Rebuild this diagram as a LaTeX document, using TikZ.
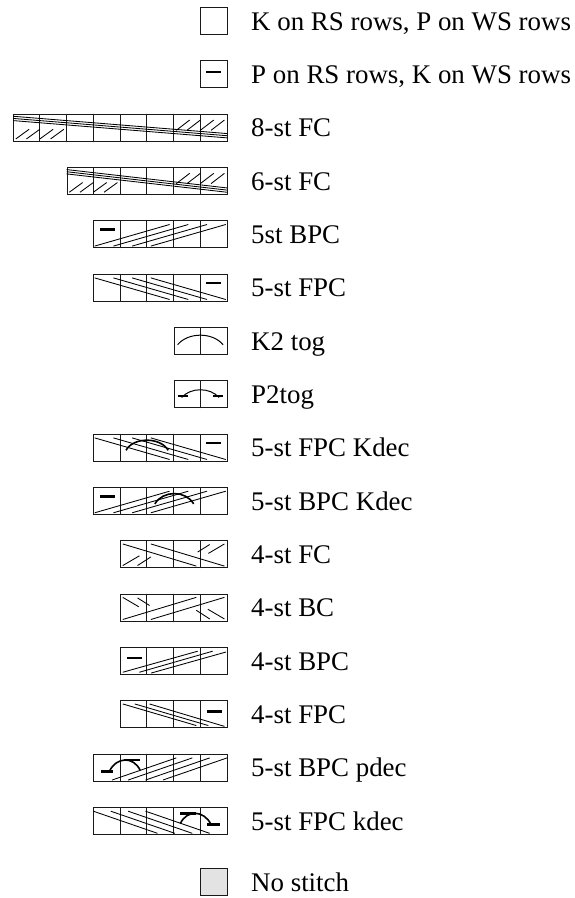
\documentclass[tikz,border=0pt]{standalone}
\usepackage{fontspec}
\setmainfont{Liberation Serif}
\usetikzlibrary{positioning}
\tikzstyle{chart} = [rectangle, draw=black!90, line width=0.9pt, minimum height=27pt, inner sep=0pt, anchor=east]
\tikzstyle{legendtext} = [font=\fontsize{26.9}{30}\selectfont, text height=18.3pt, text depth=0pt, inner sep=0pt]
\tikzstyle{incell} = [x=26.75pt, y=27pt]
\tikzstyle{divider} = [draw=black!90, line width=0.8pt]
\tikzstyle{cable} = [line width=0.85pt]
\tikzstyle{purl} = [line width=2.6pt]
\tikzstyle{pbar} = [line width=2pt]
\tikzstyle{dec} = [line width=1.6pt]
\tikzset{sts/.style={minimum width=#1*26.75pt}}

\begin{document}
\begin{tikzpicture}[x=1pt, y=1pt]
\useasboundingbox (0,0) rectangle (574,-898);

% chart symbols
\node (rs) [chart, sts=1] at (228,-21) {};
\node (ws) [chart, sts=1] at (228,-74.3) {};
\node (fc8) [chart, sts=8] at (228,-127.7) {};
\node (fc6) [chart, sts=6] at (228,-181) {};
\node (bpc5) [chart, sts=5] at (228,-234.3) {};
\node (fpc5) [chart, sts=5] at (228,-287.7) {};
\node (ktog) [chart, sts=2] at (228,-341) {};
\node (ptog) [chart, sts=2] at (228,-394.3) {};
\node (fpck) [chart, sts=5] at (228,-447.7) {};
\node (bpck) [chart, sts=5] at (228,-501) {};
\node (fc4) [chart, sts=4] at (228,-554.3) {};
\node (bc4) [chart, sts=4] at (228,-607.7) {};
\node (bpc4) [chart, sts=4] at (228,-661) {};
\node (fpc4) [chart, sts=4] at (228,-714.3) {};
\node (bpcp) [chart, sts=5] at (228,-767.7) {};
\node (fpcd) [chart, sts=5] at (228,-821) {};
\node (nost) [chart, sts=1, fill=black!11] at (228,-882) {};

% legend texts
\node (rs-l) [legendtext, right=23pt of rs] {K on RS rows, P on WS rows};
\node (ws-l) [legendtext, right=23pt of ws] {P on RS rows, K on WS rows};
\node (fc8-l) [legendtext, right=23pt of fc8] {8-st FC};
\node (fc6-l) [legendtext, right=23pt of fc6] {6-st FC};
\node (bpc5-l) [legendtext, right=23pt of bpc5] {5st BPC};
\node (fpc5-l) [legendtext, right=23pt of fpc5] {5-st FPC};
\node (ktog-l) [legendtext, right=23pt of ktog] {K2 tog};
\node (ptog-l) [legendtext, right=23pt of ptog] {P2tog};
\node (fpck-l) [legendtext, right=23pt of fpck] {5-st FPC Kdec};
\node (bpck-l) [legendtext, right=23pt of bpck] {5-st BPC Kdec};
\node (fc4-l) [legendtext, right=23pt of fc4] {4-st FC};
\node (bc4-l) [legendtext, right=23pt of bc4] {4-st BC};
\node (bpc4-l) [legendtext, right=23pt of bpc4] {4-st BPC};
\node (fpc4-l) [legendtext, right=23pt of fpc4] {4-st FPC};
\node (bpcp-l) [legendtext, right=23pt of bpcp] {5-st BPC pdec};
\node (fpcd-l) [legendtext, right=23pt of fpcd] {5-st FPC kdec};
\node (nost-l) [legendtext, right=23pt of nost] {No stitch};

% purl
\begin{scope}[shift={(ws.south west)}, incell]
  \draw[purl] (0.22,0.6) -- (0.78,0.6);
\end{scope}

% 8-st FC
\begin{scope}[shift={(fc8.south west)}, incell]
  \foreach \i in {1,...,7} \draw[divider] (\i,0) -- (\i,1);
  \draw[cable] (0,0.94) -- (8,0.3) (0,0.86) -- (8,0.22) (0,0.78) -- (8,0.14);
  \foreach \s in {0.1,0.5,1.0,1.4} \draw[cable] (\s,0.1) -- ++(0.5,0.36);
  \foreach \s in {6.1,6.5,7.0,7.4} \draw[cable] (\s,0.42) -- ++(0.5,0.38);
\end{scope}

% 6-st FC
\begin{scope}[shift={(fc6.south west)}, incell]
  \foreach \i in {1,...,5} \draw[divider] (\i,0) -- (\i,1);
  \draw[cable] (0,0.94) -- (6,0.26) (0,0.86) -- (6,0.18) (0,0.78) -- (6,0.1);
  \foreach \s in {0.1,0.5,1.0,1.4} \draw[cable] (\s,0.1) -- ++(0.5,0.36);
  \foreach \s in {4.1,4.5,5.0,5.4} \draw[cable] (\s,0.42) -- ++(0.5,0.38);
\end{scope}

% 5st BPC
\begin{scope}[shift={(bpc5.south west)}, incell]
  \foreach \i in {1,...,4} \draw[divider] (\i,0) -- (\i,1);
  \draw[purl] (0.25,0.69) -- (0.8,0.69);
  \foreach \s in {0.05,0.75,1.45,2.15} \draw[cable] (\s,0.08) -- ++(2.8,0.8);
\end{scope}

% 5-st FPC
\begin{scope}[shift={(fpc5.south west)}, incell]
  \foreach \i in {1,...,4} \draw[divider] (\i,0) -- (\i,1);
  \draw[purl] (4.2,0.69) -- (4.78,0.69);
  \foreach \s in {0.05,0.75,1.45,2.15} \draw[cable] (\s,0.88) -- ++(2.8,-0.8);
\end{scope}

% K2 tog
\begin{scope}[shift={(ktog.south west)}, incell]
  \draw[divider] (1,0) -- (1,1);
  \draw[line width=1pt] (0.15,0.38) .. controls (0.55,0.85) and (1.45,0.85) .. (1.85,0.38);
\end{scope}

% P2tog
\begin{scope}[shift={(ptog.south west)}, incell]
  \draw[divider] (1,0) -- (1,1);
  \draw[pbar] (0.15,0.45) -- (0.52,0.45) (1.48,0.45) -- (1.85,0.45);
  \draw[line width=1pt] (0.3,0.4) .. controls (0.65,0.78) and (1.35,0.78) .. (1.7,0.4);
\end{scope}

% 5-st FPC Kdec
\begin{scope}[shift={(fpck.south west)}, incell]
  \foreach \i in {1,...,4} \draw[divider] (\i,0) -- (\i,1);
  \draw[purl] (4.2,0.69) -- (4.78,0.69);
  \foreach \s in {0.05,0.75,1.45,2.15} \draw[cable] (\s,0.88) -- ++(2.8,-0.8);
  \draw[dec] (1.22,0.42) .. controls (1.5,0.92) and (2.5,0.92) .. (2.8,0.42);
\end{scope}

% 5-st BPC Kdec
\begin{scope}[shift={(bpck.south west)}, incell]
  \foreach \i in {1,...,4} \draw[divider] (\i,0) -- (\i,1);
  \draw[purl] (0.25,0.69) -- (0.8,0.69);
  \foreach \s in {0.05,0.75,1.45,2.15} \draw[cable] (\s,0.08) -- ++(2.8,0.8);
  \draw[dec] (2.3,0.41) .. controls (2.6,0.92) and (3.45,0.92) .. (3.75,0.41);
\end{scope}

% 4-st FC
\begin{scope}[shift={(fc4.south west)}, incell]
  \foreach \i in {1,...,3} \draw[divider] (\i,0) -- (\i,1);
  \draw[cable] (0.1,0.9) -- (2.85,0.08) (1.15,0.9) -- (3.9,0.08);
  \draw[cable] (0.1,0.1) -- (0.72,0.46) (0.65,0.1) -- (1.15,0.42)
               (2.9,0.6) -- (3.35,0.88) (3.3,0.55) -- (3.9,0.9);
\end{scope}

% 4-st BC
\begin{scope}[shift={(bc4.south west)}, incell]
  \foreach \i in {1,...,3} \draw[divider] (\i,0) -- (\i,1);
  \draw[cable] (3.9,0.9) -- (1.15,0.08) (2.85,0.9) -- (0.1,0.08);
  \draw[cable] (3.9,0.1) -- (3.28,0.46) (3.35,0.1) -- (2.85,0.42)
               (1.1,0.6) -- (0.65,0.88) (0.7,0.55) -- (0.1,0.9);
\end{scope}

% 4-st BPC
\begin{scope}[shift={(bpc4.south west)}, incell]
  \foreach \i in {1,...,3} \draw[divider] (\i,0) -- (\i,1);
  \draw[purl] (0.27,0.63) -- (0.8,0.63);
  \draw[cable] (0.1,0.1) -- (2.9,0.88) (0.72,0.1) -- (3.46,0.88) (1.16,0.07) -- (3.96,0.85);
\end{scope}

% 4-st FPC
\begin{scope}[shift={(fpc4.south west)}, incell]
  \foreach \i in {1,...,3} \draw[divider] (\i,0) -- (\i,1);
  \draw[purl] (3.25,0.63) -- (3.8,0.63);
  \draw[cable] (0.1,0.9) -- (2.85,0.1) (0.55,0.9) -- (3.3,0.1) (1.1,0.9) -- (3.9,0.07);
\end{scope}

% 5-st BPC pdec
\begin{scope}[shift={(bpcp.south west)}, incell]
  \foreach \i in {1,...,4} \draw[divider] (\i,0) -- (\i,1);
  \foreach \s in {0.7,1.3,1.95,2.6} \draw[cable] (\s,0.06) -- ++(2.4,0.82);
  \draw[purl] (0.28,0.38) -- (0.75,0.38) (1.15,0.8) -- (1.75,0.8);
  \draw[dec] (0.6,0.38) .. controls (0.85,0.92) and (1.5,0.95) .. (1.75,0.42);
\end{scope}

% 5-st FPC kdec
\begin{scope}[shift={(fpcd.south west)}, incell]
  \foreach \i in {1,...,4} \draw[divider] (\i,0) -- (\i,1);
  \foreach \s in {0,0.65,1.3,1.95} \draw[cable] (\s,0.88) -- ++(2.4,-0.82);
  \draw[purl] (3.25,0.8) -- (3.85,0.8) (4.25,0.38) -- (4.72,0.38);
  \draw[dec] (3.25,0.42) .. controls (3.5,0.95) and (4.15,0.92) .. (4.4,0.38);
\end{scope}
\end{tikzpicture}
\end{document}
